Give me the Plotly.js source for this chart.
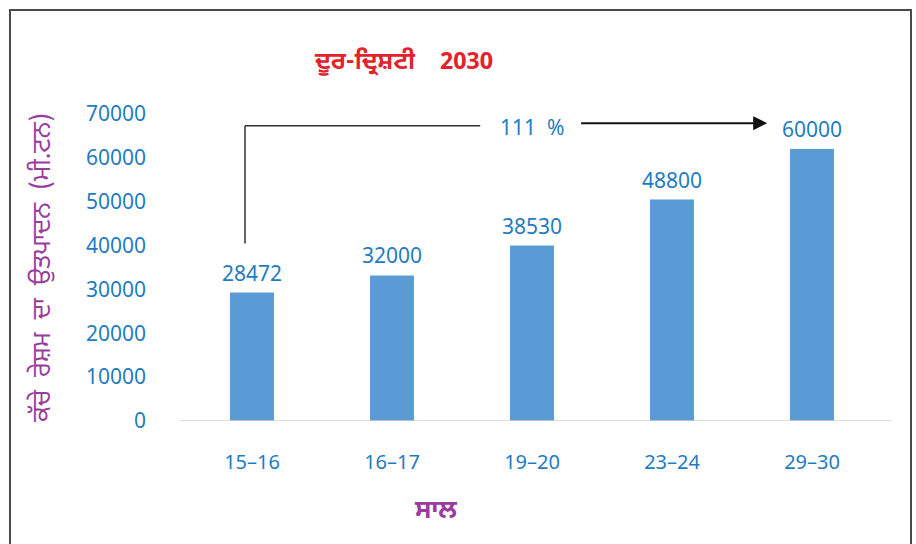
<!DOCTYPE html>
<html>
<head>
<meta charset="utf-8">
<script src="https://cdn.plot.ly/plotly-3.0.1.min.js"></script>
<style>
  html, body { margin: 0; padding: 0; background: #fff; }
  #wrap { position: relative; width: 916px; height: 544px; overflow: hidden; }
  #chart { position: absolute; left: 0; top: 0; width: 916px; height: 544px; }
  #frame { position: absolute; left: 9px; top: 9px; width: 899px; height: 600px;
           border: 2px solid #4a4a4a; pointer-events: none; }
</style>
</head>
<body>
<div id="wrap">
  <div id="chart"></div>
  <div id="frame"></div>
</div>
<script>
// Data
const years = ["15–16", "16–17", "19–20", "23–24", "29–30"];
const barHeights = [29300, 33200, 40000, 50500, 62000];
const barLabels = ["28472", "32000", "38530", "48800", "60000"];
const yTicks = [0, 10000, 20000, 30000, 40000, 50000, 60000, 70000];
const growthText = "111  %";

const blue = "#1F7CC2";
const purple = "#9A3C9E";
const gurmukhi = "'Noto Sans Gurmukhi', 'Lohit Gurmukhi', 'Raavi', 'Noto Sans', sans-serif";
const numFont = "'Noto Sans', 'Open Sans', sans-serif";

const trace = {
  type: "bar",
  x: years,
  y: barHeights,
  marker: { color: "#5B9BD5", line: { width: 0 } },
  hoverinfo: "none"
};

const labelAnns = years.map((c, i) => ({
  x: c, y: barHeights[i], xref: "x", yref: "y",
  text: barLabels[i], showarrow: false,
  yanchor: "bottom", yshift: 4,
  font: { family: numFont, size: 21, color: blue }
}));

const layout = {
  width: 916, height: 544,
  margin: { l: 182, r: 34, t: 114, b: 123 },
  paper_bgcolor: "#ffffff", plot_bgcolor: "#ffffff",
  showlegend: false,
  bargap: 0.686,
  title: {
    text: "<b>ਦੂਰ-ਦ੍ਰਿਸ਼ਟੀ    2030</b>",
    font: { family: gurmukhi, size: 24, color: "#E3232B" },
    x: 0.441, xref: "container", xanchor: "center",
    y: 0.888, yref: "container", yanchor: "middle"
  },
  xaxis: {
    type: "category",
    tickfont: { family: numFont, size: 20, color: blue },
    showgrid: false, showline: false, zeroline: false,
    ticks: "", ticklabelstandoff: 27
  },
  yaxis: {
    range: [0, 70000],
    tickvals: yTicks,
    ticktext: yTicks.map(String),
    tickfont: { family: numFont, size: 21, color: blue },
    showgrid: false, showline: false, zeroline: false,
    ticks: "", ticklabelstandoff: 35,
    title: {
      text: "ਕੱਚੇ  ਰੇਸ਼ਮ  ਦਾ  ਉਤਪਾਦਨ  (ਮੀ.ਟਨ)",
      font: { family: gurmukhi, size: 25, color: purple },
      standoff: 28
    }
  },
  shapes: [
    { type: "line", xref: "paper", yref: "y", x0: -0.003, x1: 1.014, y0: 0, y1: 0,
      line: { color: "#d0d0d0", width: 1.5 } },
    { type: "line", xref: "x", yref: "y", x0: -0.05, x1: -0.05, y0: 40500, y1: 67300,
      line: { color: "#333333", width: 1.5 } },
    { type: "line", xref: "x", yref: "y", x0: -0.05, x1: 1.63, y0: 67300, y1: 67300,
      line: { color: "#333333", width: 1.5 } }
  ],
  annotations: labelAnns.concat([
    { x: 2.0, y: 67100, xref: "x", yref: "y", text: growthText, showarrow: false,
      font: { family: numFont, size: 21, color: blue } },
    { x: 3.68, y: 67900, ax: 2.34, ay: 67900, xref: "x", yref: "y",
      axref: "x", ayref: "y", text: "", showarrow: true,
      arrowhead: 2, arrowsize: 1.4, arrowwidth: 2, arrowcolor: "#111111" },
    { x: 435 / 916, y: 1 - 512 / 544, xref: "paper", yref: "paper", text: "<b>ਸਾਲ</b>",
      showarrow: false, xanchor: "center", yanchor: "middle",
      font: { family: gurmukhi, size: 26, color: purple } }
  ])
};
// convert the x-title annotation to container-relative placement
const xt = layout.annotations[layout.annotations.length - 1];
xt.xref = "paper"; xt.yref = "paper";
xt.x = (435 - 182) / (916 - 182 - 34);
xt.y = -(512 - (544 - 123)) / (544 - 114 - 123);

Plotly.newPlot("chart", [trace], layout, { staticPlot: true, displayModeBar: false });
</script>
</body>
</html>
